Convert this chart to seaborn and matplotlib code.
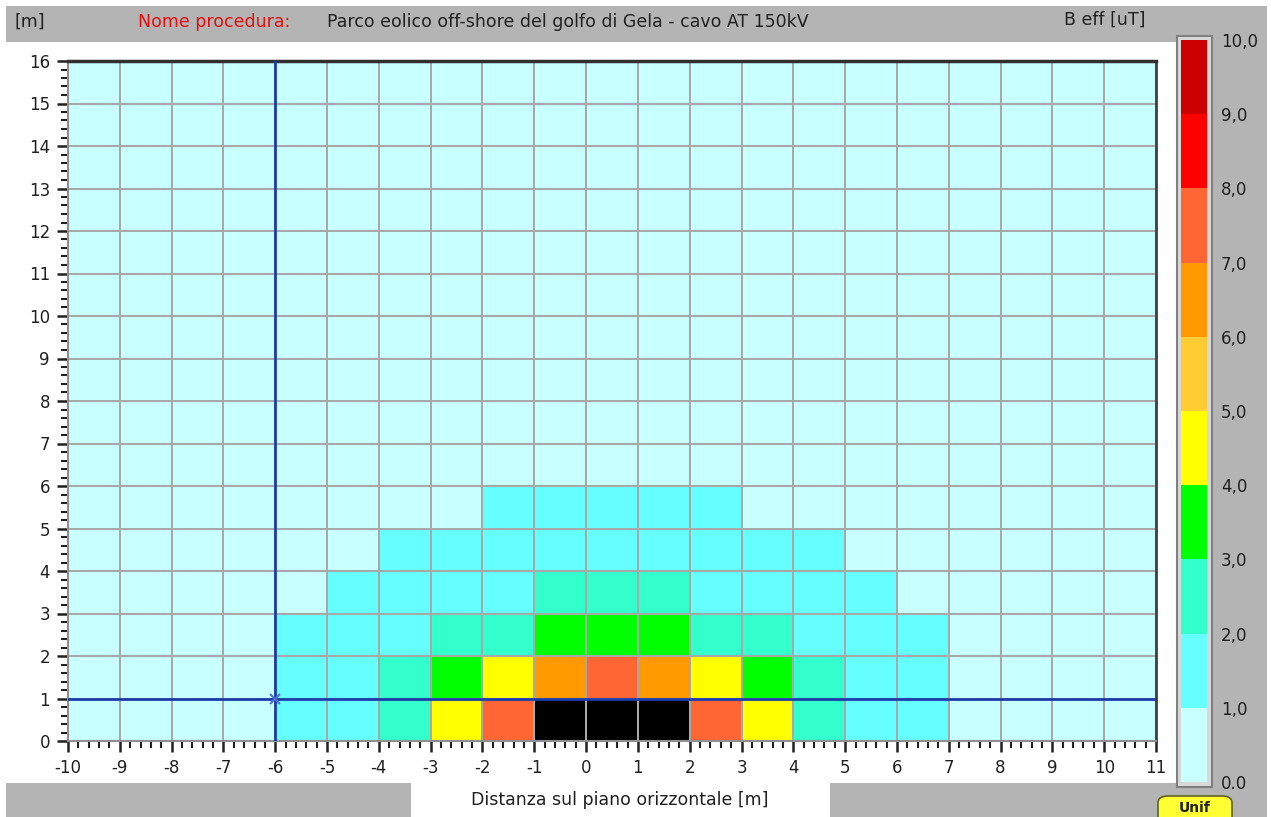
import numpy as np
import matplotlib
matplotlib.use("Agg")
import matplotlib.pyplot as plt
from matplotlib.colors import ListedColormap, BoundaryNorm
from matplotlib.patches import Rectangle, FancyBboxPatch
from matplotlib.ticker import MultipleLocator
import seaborn as sns

sns.set_style("white")
plt.rcParams['font.family'] = ['DejaVu Sans']

# x cell edges (m) and y cell edges (m)
x_ticks = list(range(-10, 12))
y_ticks = list(range(0, 17))

# B eff [uT] per cell, row 0 = 0..1 m, columns x = -10..10 (left edge)
row_0 = [0.5, 0.6, 0.7, 0.9, 1.2, 1.6, 2.5, 4.4, 7.3, 12.5, 15.0, 12.5, 7.3, 4.4, 2.5, 1.6, 1.2, 0.9, 0.7, 0.6, 0.5]
row_1 = [0.5, 0.6, 0.7, 0.9, 1.2, 1.6, 2.3, 3.5, 4.6, 6.3, 7.1, 6.3, 4.6, 3.5, 2.3, 1.6, 1.2, 0.9, 0.7, 0.6, 0.5]
row_2 = [0.5, 0.6, 0.7, 0.9, 1.1, 1.5, 1.9, 2.4, 2.9, 3.4, 3.6, 3.4, 2.9, 2.4, 1.9, 1.5, 1.1, 0.9, 0.7, 0.6, 0.5]
row_3 = [0.4, 0.5, 0.6, 0.8, 0.95, 1.2, 1.5, 1.8, 1.95, 2.2, 2.3, 2.2, 1.95, 1.8, 1.5, 1.2, 0.95, 0.8, 0.6, 0.5, 0.4]
row_4 = [0.4, 0.5, 0.6, 0.7, 0.8, 0.95, 1.1, 1.3, 1.5, 1.7, 1.8, 1.7, 1.5, 1.3, 1.1, 0.95, 0.8, 0.7, 0.6, 0.5, 0.4]
row_5 = [0.3, 0.4, 0.5, 0.6, 0.7, 0.8, 0.9, 0.98, 1.1, 1.3, 1.4, 1.3, 1.1, 0.98, 0.9, 0.8, 0.7, 0.6, 0.5, 0.4, 0.3]
row_6 = [0.3, 0.3, 0.4, 0.5, 0.5, 0.6, 0.7, 0.8, 0.9, 0.9, 0.95, 0.9, 0.9, 0.8, 0.7, 0.6, 0.5, 0.5, 0.4, 0.3, 0.3]
row_7 = [0.2, 0.3, 0.3, 0.4, 0.4, 0.5, 0.6, 0.6, 0.7, 0.7, 0.7, 0.7, 0.7, 0.6, 0.6, 0.5, 0.4, 0.4, 0.3, 0.3, 0.2]
row_8 = [0.2, 0.2, 0.3, 0.3, 0.4, 0.4, 0.5, 0.5, 0.5, 0.6, 0.6, 0.6, 0.5, 0.5, 0.5, 0.4, 0.4, 0.3, 0.3, 0.2, 0.2]
row_9 = [0.2, 0.2, 0.2, 0.3, 0.3, 0.3, 0.4, 0.4, 0.4, 0.4, 0.5, 0.4, 0.4, 0.4, 0.4, 0.3, 0.3, 0.3, 0.2, 0.2, 0.2]
row_10 = [0.1, 0.2, 0.2, 0.2, 0.3, 0.3, 0.3, 0.3, 0.4, 0.4, 0.4, 0.4, 0.4, 0.3, 0.3, 0.3, 0.3, 0.2, 0.2, 0.2, 0.1]
row_11 = [0.1, 0.1, 0.2, 0.2, 0.2, 0.3, 0.3, 0.3, 0.3, 0.3, 0.3, 0.3, 0.3, 0.3, 0.3, 0.3, 0.2, 0.2, 0.2, 0.1, 0.1]
row_12 = [0.1, 0.1, 0.1, 0.2, 0.2, 0.2, 0.2, 0.3, 0.3, 0.3, 0.3, 0.3, 0.3, 0.3, 0.2, 0.2, 0.2, 0.2, 0.1, 0.1, 0.1]
row_13 = [0.1, 0.1, 0.1, 0.1, 0.2, 0.2, 0.2, 0.2, 0.2, 0.2, 0.2, 0.2, 0.2, 0.2, 0.2, 0.2, 0.2, 0.1, 0.1, 0.1, 0.1]
row_14 = [0.1, 0.1, 0.1, 0.1, 0.1, 0.2, 0.2, 0.2, 0.2, 0.2, 0.2, 0.2, 0.2, 0.2, 0.2, 0.2, 0.1, 0.1, 0.1, 0.1, 0.1]
row_15 = [0.1, 0.1, 0.1, 0.1, 0.1, 0.1, 0.1, 0.2, 0.2, 0.2, 0.2, 0.2, 0.2, 0.2, 0.1, 0.1, 0.1, 0.1, 0.1, 0.1, 0.1]

# colour scale 0..10 uT, black above 10
levels = [0, 1, 2, 3, 4, 5, 6, 7, 8, 9, 10]
level_labels = ["0.0", "1,0", "2,0", "3,0", "4,0", "5,0", "6,0", "7,0", "8,0", "9,0", "10,0"]
band_colors = ["#c8ffff", "#66ffff", "#33ffcc", "#00ff00", "#ffff00",
               "#ffcc33", "#ff9900", "#ff6633", "#ff0000", "#cc0000"]

# cursor position
cursor_x = -6
cursor_y = 1

data = np.array([row_0, row_1, row_2, row_3, row_4, row_5, row_6, row_7,
                 row_8, row_9, row_10, row_11, row_12, row_13, row_14, row_15])

W, H = 1271, 817
def fx(x):
    return x / W
def fy(y):
    return 1 - y / H

fig = plt.figure(figsize=(W / 100, H / 100), dpi=100, facecolor="white")
gray = "#b4b4b4"
fig.patches.append(Rectangle((fx(6), fy(817)), fx(1267) - fx(6), fy(6) - fy(817),
                             transform=fig.transFigure, facecolor=gray, edgecolor="none", zorder=-3))
fig.patches.append(Rectangle((fx(6), fy(783)), fx(1177) - fx(6), fy(42) - fy(783),
                             transform=fig.transFigure, facecolor="white", edgecolor="none", zorder=-2))
fig.patches.append(Rectangle((fx(411), fy(817)), fx(830) - fx(411), fy(783) - fy(817),
                             transform=fig.transFigure, facecolor="white", edgecolor="none", zorder=-2))
# colorbar frame
fig.patches.append(Rectangle((fx(1177), fy(787)), fx(1212) - fx(1177), fy(36) - fy(787),
                             transform=fig.transFigure, facecolor="#d8d8d8", edgecolor="#808080",
                             linewidth=1.5, zorder=-1))

ax = fig.add_axes([fx(68), fy(741), fx(1156) - fx(68), fy(61) - fy(741)])
cax = fig.add_axes([fx(1181), fy(782), fx(1207) - fx(1181), fy(40) - fy(782)])

cmap = ListedColormap(band_colors).with_extremes(over="black")
norm = BoundaryNorm(levels, len(band_colors))

sns.heatmap(data, ax=ax, cbar_ax=cax, cmap=cmap, norm=norm,
            linewidths=1.3, linecolor="#a8a8a8",
            xticklabels=False, yticklabels=False,
            cbar_kws={"ticks": levels})
ax.invert_yaxis()

for name, s in ax.spines.items():
    s.set_visible(True)
    s.set_linewidth(1.5)
    s.set_color("#909090")
ax.spines["top"].set_color("#303030")
ax.spines["top"].set_linewidth(2.5)
ax.spines["right"].set_color("#404040")
ax.spines["right"].set_linewidth(2)

ax.set_xticks(range(len(x_ticks)))
ax.set_xticklabels([str(v) for v in x_ticks])
ax.set_yticks(range(len(y_ticks)))
ax.set_yticklabels([str(v) for v in y_ticks])
ax.xaxis.set_minor_locator(MultipleLocator(0.2))
ax.yaxis.set_minor_locator(MultipleLocator(0.2))
ax.tick_params(axis="both", which="major", direction="out", length=8, width=1.8,
               color="#202020", labelsize=12, labelcolor="#202020", pad=5,
               bottom=True, left=True)
ax.tick_params(axis="both", which="minor", direction="out", length=5, width=1.5,
               color="#202020", bottom=True, left=True)
ax.set_xlabel("")
ax.set_ylabel("")

# cursor lines
cx = x_ticks.index(cursor_x)
cy = y_ticks.index(cursor_y)
ax.axvline(cx, color="#1c3caa", linewidth=2, zorder=5)
ax.axhline(cy, color="#1c3caa", linewidth=2, zorder=5)
ax.plot(cx, cy, marker="x", color="#5070d8", markersize=7, mew=1.5, zorder=6, clip_on=False)

# colorbar
cb = ax.collections[0].colorbar
cb.set_ticks(levels)
cb.set_ticklabels(level_labels)
cb.outline.set_visible(False)
cax.tick_params(length=0, labelsize=12, labelcolor="#202020", pad=10)

# header and footer texts
fig.text(fx(15), fy(22), "[m]", fontsize=12.5, color="#202020", va="center")
fig.text(fx(138), fy(22), "Nome procedura:", fontsize=12.5, color="#e01010", va="center")
fig.text(fx(327), fy(22), "Parco eolico off-shore del golfo di Gela - cavo AT 150kV",
         fontsize=12.5, color="#202020", va="center")
fig.text(fx(1145), fy(20), "B eff [uT]", fontsize=12.5, color="#202020", ha="right", va="center")
fig.text(fx(620), fy(800), "Distanza sul piano orizzontale [m]", fontsize=12.5,
         color="#202020", ha="center", va="center")

# "Unif" button at the bottom edge
fig.patches.append(FancyBboxPatch((fx(1158), fy(830)), fx(1232) - fx(1158), fy(796) - fy(830),
                                  boxstyle="round,pad=0,rounding_size=0.008",
                                  transform=fig.transFigure, facecolor="#ffff33",
                                  edgecolor="#606020", linewidth=1.2, zorder=2))
fig.text(fx(1195), fy(808), "Unif", fontsize=10, fontweight="bold", color="#202020",
         ha="center", va="center", zorder=3)

fig.savefig("out.png", dpi=100, facecolor="white")
